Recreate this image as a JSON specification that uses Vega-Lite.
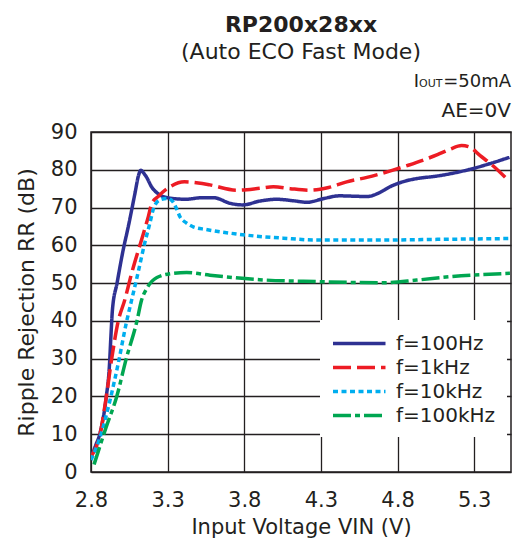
{
  "$schema": "https://vega.github.io/schema/vega-lite/v6.json",
  "width": 420,
  "height": 340,
  "autosize": {"type": "none"},
  "padding": {"left": 91, "top": 132, "right": 7, "bottom": 72},
  "background": "white",
  "config": {
    "font": "DejaVu Sans",
    "view": {"stroke": "#231f20", "strokeWidth": 1.5},
    "axis": {
      "labelColor": "#231f20",
      "titleColor": "#231f20",
      "ticks": false,
      "domain": false,
      "grid": true,
      "gridColor": "#231f20",
      "gridWidth": 1.3,
      "gridOpacity": 1,
      "labelFont": "DejaVu Sans",
      "labelFontSize": 21,
      "labelFlush": false,
      "labelOverlap": false,
      "titleFont": "DejaVu Sans",
      "titleFontWeight": "normal"
    },
    "axisX": {"labelPadding": 17, "titlePadding": 6, "titleFontSize": 21},
    "axisY": {"labelPadding": 14, "titlePadding": 12, "titleFontSize": 22}
  },
  "title": {
    "text": "RP200x28xx",
    "subtitle": "(Auto ECO Fast Mode)",
    "font": "DejaVu Sans",
    "fontSize": 22,
    "fontWeight": "bold",
    "color": "#231f20",
    "subtitleFont": "DejaVu Sans",
    "subtitleFontSize": 22,
    "subtitleColor": "#231f20",
    "subtitlePadding": 5,
    "anchor": "middle",
    "offset": 9
  },
  "datasets": {
    "curves": [
      {"v": 2.80, "rr": 4, "f": "f=100Hz"},
      {"v": 2.83, "rr": 7, "f": "f=100Hz"},
      {"v": 2.86, "rr": 10.5, "f": "f=100Hz"},
      {"v": 2.90, "rr": 20, "f": "f=100Hz"},
      {"v": 2.92, "rr": 28, "f": "f=100Hz"},
      {"v": 2.93, "rr": 36, "f": "f=100Hz"},
      {"v": 2.94, "rr": 43, "f": "f=100Hz"},
      {"v": 2.97, "rr": 50, "f": "f=100Hz"},
      {"v": 3.01, "rr": 58.8, "f": "f=100Hz"},
      {"v": 3.043, "rr": 64.9, "f": "f=100Hz"},
      {"v": 3.087, "rr": 73.8, "f": "f=100Hz"},
      {"v": 3.11, "rr": 78.5, "f": "f=100Hz"},
      {"v": 3.126, "rr": 79.9, "f": "f=100Hz"},
      {"v": 3.14, "rr": 79.3, "f": "f=100Hz"},
      {"v": 3.163, "rr": 78.0, "f": "f=100Hz"},
      {"v": 3.195, "rr": 75.5, "f": "f=100Hz"},
      {"v": 3.24, "rr": 73.6, "f": "f=100Hz"},
      {"v": 3.30, "rr": 72.6, "f": "f=100Hz"},
      {"v": 3.42, "rr": 72.2, "f": "f=100Hz"},
      {"v": 3.52, "rr": 72.6, "f": "f=100Hz"},
      {"v": 3.60, "rr": 72.6, "f": "f=100Hz"},
      {"v": 3.71, "rr": 71.1, "f": "f=100Hz"},
      {"v": 3.79, "rr": 70.7, "f": "f=100Hz"},
      {"v": 3.90, "rr": 71.7, "f": "f=100Hz"},
      {"v": 4.01, "rr": 72.2, "f": "f=100Hz"},
      {"v": 4.12, "rr": 71.8, "f": "f=100Hz"},
      {"v": 4.21, "rr": 71.4, "f": "f=100Hz"},
      {"v": 4.32, "rr": 72.4, "f": "f=100Hz"},
      {"v": 4.42, "rr": 73.1, "f": "f=100Hz"},
      {"v": 4.52, "rr": 73.0, "f": "f=100Hz"},
      {"v": 4.60, "rr": 72.9, "f": "f=100Hz"},
      {"v": 4.68, "rr": 73.9, "f": "f=100Hz"},
      {"v": 4.75, "rr": 75.5, "f": "f=100Hz"},
      {"v": 4.85, "rr": 77.0, "f": "f=100Hz"},
      {"v": 4.93, "rr": 77.7, "f": "f=100Hz"},
      {"v": 5.05, "rr": 78.3, "f": "f=100Hz"},
      {"v": 5.15, "rr": 79.0, "f": "f=100Hz"},
      {"v": 5.27, "rr": 80.1, "f": "f=100Hz"},
      {"v": 5.40, "rr": 81.6, "f": "f=100Hz"},
      {"v": 5.53, "rr": 83.3, "f": "f=100Hz"},

      {"v": 2.80, "rr": 4, "f": "f=1kHz"},
      {"v": 2.86, "rr": 10.2, "f": "f=1kHz"},
      {"v": 2.90, "rr": 20, "f": "f=1kHz"},
      {"v": 2.935, "rr": 30, "f": "f=1kHz"},
      {"v": 2.978, "rr": 40, "f": "f=1kHz"},
      {"v": 3.02, "rr": 45.5, "f": "f=1kHz"},
      {"v": 3.065, "rr": 52.6, "f": "f=1kHz"},
      {"v": 3.13, "rr": 61.5, "f": "f=1kHz"},
      {"v": 3.174, "rr": 67.6, "f": "f=1kHz"},
      {"v": 3.196, "rr": 71.0, "f": "f=1kHz"},
      {"v": 3.24, "rr": 73.0, "f": "f=1kHz"},
      {"v": 3.315, "rr": 75.5, "f": "f=1kHz"},
      {"v": 3.41, "rr": 76.8, "f": "f=1kHz"},
      {"v": 3.50, "rr": 76.5, "f": "f=1kHz"},
      {"v": 3.576, "rr": 76.0, "f": "f=1kHz"},
      {"v": 3.75, "rr": 74.6, "f": "f=1kHz"},
      {"v": 3.90, "rr": 75.1, "f": "f=1kHz"},
      {"v": 3.99, "rr": 75.5, "f": "f=1kHz"},
      {"v": 4.10, "rr": 75.0, "f": "f=1kHz"},
      {"v": 4.23, "rr": 74.6, "f": "f=1kHz"},
      {"v": 4.35, "rr": 75.3, "f": "f=1kHz"},
      {"v": 4.468, "rr": 76.8, "f": "f=1kHz"},
      {"v": 4.60, "rr": 78.0, "f": "f=1kHz"},
      {"v": 4.77, "rr": 79.9, "f": "f=1kHz"},
      {"v": 4.87, "rr": 81.2, "f": "f=1kHz"},
      {"v": 4.97, "rr": 82.6, "f": "f=1kHz"},
      {"v": 5.06, "rr": 84.0, "f": "f=1kHz"},
      {"v": 5.14, "rr": 85.4, "f": "f=1kHz"},
      {"v": 5.218, "rr": 86.4, "f": "f=1kHz"},
      {"v": 5.27, "rr": 86.0, "f": "f=1kHz"},
      {"v": 5.337, "rr": 83.8, "f": "f=1kHz"},
      {"v": 5.424, "rr": 81.0, "f": "f=1kHz"},
      {"v": 5.52, "rr": 77.3, "f": "f=1kHz"},

      {"v": 2.80, "rr": 3.2, "f": "f=10kHz"},
      {"v": 2.86, "rr": 9.3, "f": "f=10kHz"},
      {"v": 2.924, "rr": 19, "f": "f=10kHz"},
      {"v": 2.978, "rr": 28.8, "f": "f=10kHz"},
      {"v": 3.03, "rr": 39.4, "f": "f=10kHz"},
      {"v": 3.065, "rr": 45.5, "f": "f=10kHz"},
      {"v": 3.10, "rr": 51.5, "f": "f=10kHz"},
      {"v": 3.15, "rr": 60.5, "f": "f=10kHz"},
      {"v": 3.185, "rr": 66, "f": "f=10kHz"},
      {"v": 3.21, "rr": 70, "f": "f=10kHz"},
      {"v": 3.25, "rr": 72, "f": "f=10kHz"},
      {"v": 3.30, "rr": 72.4, "f": "f=10kHz"},
      {"v": 3.335, "rr": 71.5, "f": "f=10kHz"},
      {"v": 3.36, "rr": 69.5, "f": "f=10kHz"},
      {"v": 3.38, "rr": 67.6, "f": "f=10kHz"},
      {"v": 3.42, "rr": 66.0, "f": "f=10kHz"},
      {"v": 3.467, "rr": 64.9, "f": "f=10kHz"},
      {"v": 3.55, "rr": 64.2, "f": "f=10kHz"},
      {"v": 3.64, "rr": 63.6, "f": "f=10kHz"},
      {"v": 3.75, "rr": 63.0, "f": "f=10kHz"},
      {"v": 3.86, "rr": 62.5, "f": "f=10kHz"},
      {"v": 4.054, "rr": 61.9, "f": "f=10kHz"},
      {"v": 4.27, "rr": 61.4, "f": "f=10kHz"},
      {"v": 4.70, "rr": 61.4, "f": "f=10kHz"},
      {"v": 5.10, "rr": 61.6, "f": "f=10kHz"},
      {"v": 5.53, "rr": 61.8, "f": "f=10kHz"},

      {"v": 2.82, "rr": 2.0, "f": "f=100kHz"},
      {"v": 2.90, "rr": 12, "f": "f=100kHz"},
      {"v": 2.968, "rr": 20, "f": "f=100kHz"},
      {"v": 3.03, "rr": 30, "f": "f=100kHz"},
      {"v": 3.10, "rr": 40, "f": "f=100kHz"},
      {"v": 3.13, "rr": 45.5, "f": "f=100kHz"},
      {"v": 3.163, "rr": 48.5, "f": "f=100kHz"},
      {"v": 3.23, "rr": 51.5, "f": "f=100kHz"},
      {"v": 3.337, "rr": 52.6, "f": "f=100kHz"},
      {"v": 3.424, "rr": 52.8, "f": "f=100kHz"},
      {"v": 3.576, "rr": 52.1, "f": "f=100kHz"},
      {"v": 3.90, "rr": 50.9, "f": "f=100kHz"},
      {"v": 4.27, "rr": 50.4, "f": "f=100kHz"},
      {"v": 4.707, "rr": 50.1, "f": "f=100kHz"},
      {"v": 4.925, "rr": 50.8, "f": "f=100kHz"},
      {"v": 5.14, "rr": 51.7, "f": "f=100kHz"},
      {"v": 5.533, "rr": 52.6, "f": "f=100kHz"}
    ]
  },
  "layer": [
    {
      "data": {"name": "curves"},
      "mark": {"type": "line", "strokeWidth": 3.5, "interpolate": "monotone", "clip": true},
      "encoding": {
        "x": {
          "field": "v",
          "type": "quantitative",
          "scale": {"domain": [2.8, 5.54], "nice": false, "zero": false},
          "axis": {
            "values": [2.8, 3.3, 3.8, 4.3, 4.8, 5.3],
            "format": ".1f",
            "title": "Input Voltage VIN (V)"
          }
        },
        "y": {
          "field": "rr",
          "type": "quantitative",
          "scale": {"domain": [0, 90], "nice": false},
          "axis": {
            "values": [0, 10, 20, 30, 40, 50, 60, 70, 80, 90],
            "title": "Ripple Rejection RR (dB)"
          }
        },
        "color": {
          "field": "f",
          "type": "nominal",
          "scale": {
            "domain": ["f=100Hz", "f=1kHz", "f=10kHz", "f=100kHz"],
            "range": ["#2e3192", "#ed1c24", "#00aeef", "#00a651"]
          },
          "legend": {
            "orient": "none",
            "legendX": 229,
            "legendY": 188,
            "title": null,
            "fillColor": "white",
            "padding": 11,
            "symbolType": "M-1,0H4",
            "symbolSize": 441,
            "symbolStrokeWidth": 3.5,
            "symbolFillColor": "transparent",
            "labelFont": "DejaVu Sans",
            "labelFontSize": 20,
            "labelColor": "#231f20",
            "labelOffset": 40,
            "rowPadding": 1
          }
        },
        "strokeDash": {
          "field": "f",
          "type": "nominal",
          "scale": {
            "domain": ["f=100Hz", "f=1kHz", "f=10kHz", "f=100kHz"],
            "range": [[1, 0], [18, 6], [5, 3.5], [18, 4, 5, 4]]
          },
          "legend": null
        }
      }
    },
    {
      "data": {"values": [{"t": "=50mA"}]},
      "mark": {"type": "text", "align": "right", "baseline": "alphabetic", "font": "DejaVu Sans", "fontSize": 18, "color": "#231f20"},
      "encoding": {
        "x": {"datum": 5.54, "type": "quantitative", "axis": {"values": [2.8, 3.3, 3.8, 4.3, 4.8, 5.3], "format": ".1f"}},
        "y": {"datum": 101.9, "type": "quantitative", "axis": {"values": [0, 10, 20, 30, 40, 50, 60, 70, 80, 90]}},
        "text": {"field": "t"}
      }
    },
    {
      "data": {"values": [{"t": "OUT"}]},
      "mark": {"type": "text", "align": "right", "baseline": "alphabetic", "font": "DejaVu Sans", "fontSize": 11, "dx": -68.5, "color": "#231f20"},
      "encoding": {
        "x": {"datum": 5.54, "type": "quantitative", "axis": {"values": [2.8, 3.3, 3.8, 4.3, 4.8, 5.3], "format": ".1f"}},
        "y": {"datum": 101.9, "type": "quantitative", "axis": {"values": [0, 10, 20, 30, 40, 50, 60, 70, 80, 90]}},
        "text": {"field": "t"}
      }
    },
    {
      "data": {"values": [{"t": "I"}]},
      "mark": {"type": "text", "align": "right", "baseline": "alphabetic", "font": "DejaVu Sans", "fontSize": 18, "dx": -92, "color": "#231f20"},
      "encoding": {
        "x": {"datum": 5.54, "type": "quantitative", "axis": {"values": [2.8, 3.3, 3.8, 4.3, 4.8, 5.3], "format": ".1f"}},
        "y": {"datum": 101.9, "type": "quantitative", "axis": {"values": [0, 10, 20, 30, 40, 50, 60, 70, 80, 90]}},
        "text": {"field": "t"}
      }
    },
    {
      "data": {"values": [{"t": "AE=0V"}]},
      "mark": {"type": "text", "align": "right", "baseline": "alphabetic", "font": "DejaVu Sans", "fontSize": 20, "color": "#231f20"},
      "encoding": {
        "x": {"datum": 5.54, "type": "quantitative", "axis": {"values": [2.8, 3.3, 3.8, 4.3, 4.8, 5.3], "format": ".1f"}},
        "y": {"datum": 94.0, "type": "quantitative", "axis": {"values": [0, 10, 20, 30, 40, 50, 60, 70, 80, 90]}},
        "text": {"field": "t"}
      }
    }
  ]
}
